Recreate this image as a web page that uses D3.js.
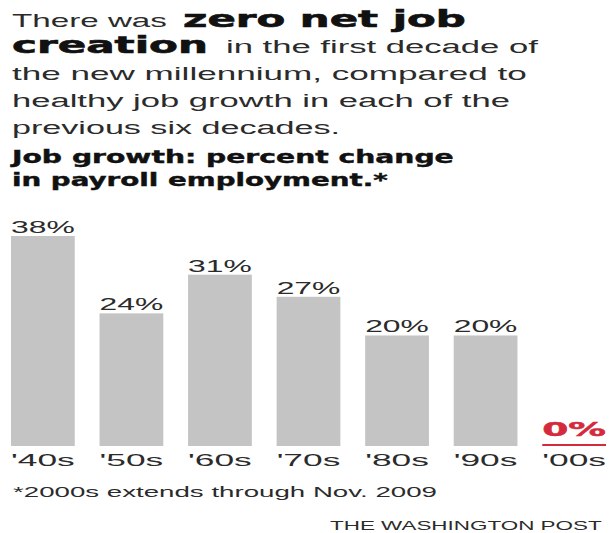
<!DOCTYPE html>
<html>
<head>
<meta charset="utf-8">
<script src="https://cdn.jsdelivr.net/npm/d3@7"></script>
<style>
  html, body { margin: 0; padding: 0; background: #fff; }
  svg { display: block; }
</style>
</head>
<body>
<svg id="chart" width="610" height="533"></svg>
<script>
// ---- data ----
const decades = ["'40s", "'50s", "'60s", "'70s", "'80s", "'90s", "'00s"];
const growth = [38, 24, 31, 27, 20, 20, 0];
const valueLabels = ["38%", "24%", "31%", "27%", "20%", "20%", "0%"];
const highlightDecade = "'00s";

// ---- layout ----
const svg = d3.select("#chart");
const regular = "'Liberation Sans', Arial, sans-serif";
const heavy = "'DejaVu Sans', 'Liberation Sans', sans-serif";
const textCol = "#2b2b2b";
const barCol = "#c4c4c4";
const red = "#d42a3c";

// draw text and stretch its glyphs horizontally to a target width
function stretch(t, x, len) {
  const w = t.node().getComputedTextLength();
  const sx = len / w;
  t.attr("x", 0).attr("transform", `translate(${x},${t.attr("y")}) scale(${sx},1)`).attr("y", 0);
}

function line(x, y, str, len, size, weight, family, col, sw) {
  const t = svg.append("text")
    .attr("y", y)
    .attr("font-family", family)
    .attr("font-size", size)
    .attr("font-weight", weight)
    .attr("fill", col)
    .text(str);
  if (sw) t.attr("stroke", col).attr("stroke-width", sw);
  stretch(t, x, len);
  return t;
}

// headline
line(12, 27, "There was", 155, 18, 400, regular, textCol);
line(183, 27, "zero net job", 283, 23, 900, heavy, "#111", 0.6);
line(12, 53, "creation", 196, 23, 900, heavy, "#111", 0.6);
line(226, 53, "in the first decade of", 312, 18, 400, regular, textCol);
line(12, 80, "the new millennium, compared to", 515, 18, 400, regular, textCol);
line(12, 107, "healthy job growth in each of the", 498, 18, 400, regular, textCol);
line(12, 134, "previous six decades.", 328, 18, 400, regular, textCol);
line(12, 163, "Job growth: percent change", 442, 17, 900, heavy, "#111", 0.4);
line(12, 186, "in payroll employment.*", 376, 17, 900, heavy, "#111", 0.4);

// scales
const x = d3.scaleBand().domain(decades).range([11, 606]).paddingInner(0.28).paddingOuter(0);
const y = d3.scaleLinear().domain([0, 38]).range([446, 236]);

const rows = decades.map((d, i) => ({ d, v: growth[i], label: valueLabels[i] }));

// bars
svg.append("g").selectAll("rect")
  .data(rows.filter(r => r.d !== highlightDecade))
  .join("rect")
  .attr("x", r => x(r.d))
  .attr("y", r => y(r.v))
  .attr("width", x.bandwidth())
  .attr("height", r => y(0) - y(r.v))
  .attr("fill", barCol);

// zero line for highlighted decade
svg.append("g").selectAll("line")
  .data(rows.filter(r => r.d === highlightDecade))
  .join("line")
  .attr("x1", r => x(r.d))
  .attr("x2", r => x(r.d) + x.bandwidth())
  .attr("y1", r => y(r.v) - 1)
  .attr("y2", r => y(r.v) - 1)
  .attr("stroke", red)
  .attr("stroke-width", 2);

// value labels
svg.append("g").selectAll("text")
  .data(rows)
  .join("text")
  .attr("y", r => r.d === highlightDecade ? y(r.v) - 10 : y(r.v) - 3)
  .attr("font-family", r => r.d === highlightDecade ? heavy : regular)
  .attr("font-weight", r => r.d === highlightDecade ? 900 : 400)
  .attr("font-size", r => r.d === highlightDecade ? 19 : 16)
  .attr("fill", r => r.d === highlightDecade ? red : textCol)
  .attr("stroke", r => r.d === highlightDecade ? red : "none")
  .attr("stroke-width", 0.5)
  .text(r => r.label)
  .each(function (r) { stretch(d3.select(this), x(r.d), x.bandwidth()); });

// category axis (labels only)
const axis = d3.axisBottom(x).tickSize(0).tickPadding(0);
const ag = svg.append("g").attr("transform", "translate(0,466)").call(axis);
ag.select(".domain").remove();
ag.selectAll(".tick text")
  .attr("dy", 0)
  .attr("text-anchor", "start")
  .attr("font-family", regular)
  .attr("font-size", 16)
  .attr("fill", textCol)
  .each(function () { d3.select(this).attr("y", 0); stretch(d3.select(this), -x.bandwidth() / 2, x.bandwidth()); });

// footnote & credit
line(13, 497, "*2000s extends through Nov. 2009", 424, 15, 400, regular, textCol);
line(330, 530, "THE WASHINGTON POST", 272, 13, 400, regular, textCol);
</script>
</body>
</html>
